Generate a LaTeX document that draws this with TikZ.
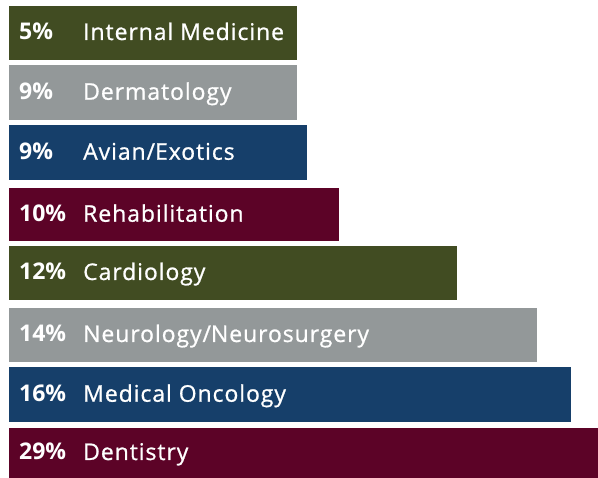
\documentclass[tikz,border=0pt]{standalone}
\usepackage{fontspec}
\setmainfont{Open Sans}
\newfontfamily\lblfont[FakeBold=0.8,LetterSpace=4]{Open Sans}
\definecolor{cgreen}{HTML}{414C22}
\definecolor{cgray}{HTML}{939899}
\definecolor{cblue}{HTML}{163F6A}
\definecolor{cmaroon}{HTML}{5C0327}
\begin{document}
\begin{tikzpicture}[x=1pt,y=-1pt,
  pct/.style={anchor=base west, inner sep=0pt, text=white, font=\fontsize{23}{26}\selectfont\bfseries},
  lbl/.style={anchor=base west, inner sep=0pt, text=white, font=\lblfont\fontsize{23}{26}\selectfont}]
\useasboundingbox (0,0) rectangle (598,478);
\foreach \i/\top/\bot/\right/\col/\p/\t in {
  1/6/60/297/cgreen/5\%/Internal Medicine,
  2/65/120.5/297/cgray/9\%/Dermatology,
  3/125.5/180/307/cblue/9\%/Avian\slash Exotics,
  4/188/241.5/339/cmaroon/10\%/Rehabilitation,
  5/246/300/457/cgreen/12\%/Cardiology,
  6/308/362/537/cgray/14\%/Neurology\slash Neurosurgery,
  7/367/422.5/571/cblue/16\%/Medical Oncology,
  8/428/478/598/cmaroon/29\%/Dentistry}{
  \fill[\col] (8.5,\top) rectangle (\right,\bot);
  \node[pct] (p\i) at (19,{(\top+\bot)/2+7}) {\p};
  \node[lbl] (l\i) at (83,{(\top+\bot)/2+7}) {\t};
}
\end{tikzpicture}
\end{document}
